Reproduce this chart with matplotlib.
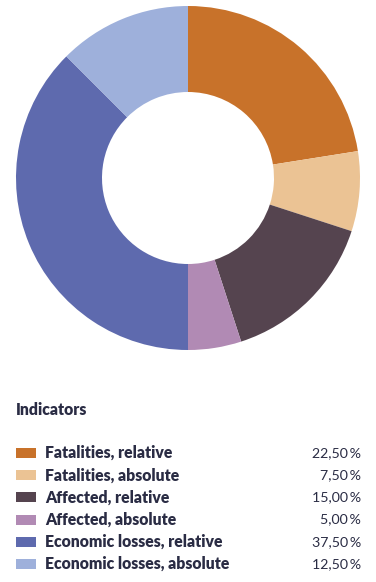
import matplotlib.pyplot as plt
from matplotlib.patches import Rectangle

labels = ["Fatalities, relative", "Fatalities, absolute", "Affected, relative",
          "Affected, absolute", "Economic losses, relative", "Economic losses, absolute"]
shares = [22.5, 7.5, 15.0, 5.0, 37.5, 12.5]
colors = ["#C8722A", "#EBC394", "#55444F", "#B18AB4", "#5E6AAE", "#9EB0DB"]
value_labels = ["22,50\u2009%", "7,50\u2009%", "15,00\u2009%", "5,00\u2009%", "37,50\u2009%", "12,50\u2009%"]

W, H = 376, 582
TEXT = "#2A2C44"
FONT = ["Lato", "DejaVu Sans"]

fig = plt.figure(figsize=(W / 100, H / 100), dpi=100)
fig.patch.set_facecolor("white")

# donut: centre (188, 178) px, outer radius 172 px
cx, cy, r = 188, 178, 172
ax = fig.add_axes([(cx - r) / W, 1 - (cy + r) / H, 2 * r / W, 2 * r / H])
ax.pie(shares, colors=colors, startangle=90, counterclock=False,
       wedgeprops=dict(width=0.5, linewidth=0))
ax.set_xlim(-1, 1)
ax.set_ylim(-1, 1)
ax.set_aspect("equal")
ax.axis("off")

# legend drawn in figure pixel coords
lg = fig.add_axes([0, 0, 1, 1])
lg.set_xlim(0, W)
lg.set_ylim(H, 0)
lg.axis("off")

lg.text(16, 410, "Indicators", fontsize=11.3, fontweight="heavy", color=TEXT,
        family=FONT, va="center", ha="left")

y0, dy = 453, 22.2
for i, (lab, col, val) in enumerate(zip(labels, colors, value_labels)):
    y = y0 + i * dy
    lg.add_patch(Rectangle((16, y - 5), 20, 10, facecolor=col, edgecolor="none"))
    lg.text(45, y, lab, fontsize=11.3, fontweight="heavy", color=TEXT,
            family=FONT, va="center", ha="left")
    lg.text(361, y, val, fontsize=10.2, color=TEXT,
            family=FONT, va="center", ha="right")

fig.savefig("out.png", dpi=100)
